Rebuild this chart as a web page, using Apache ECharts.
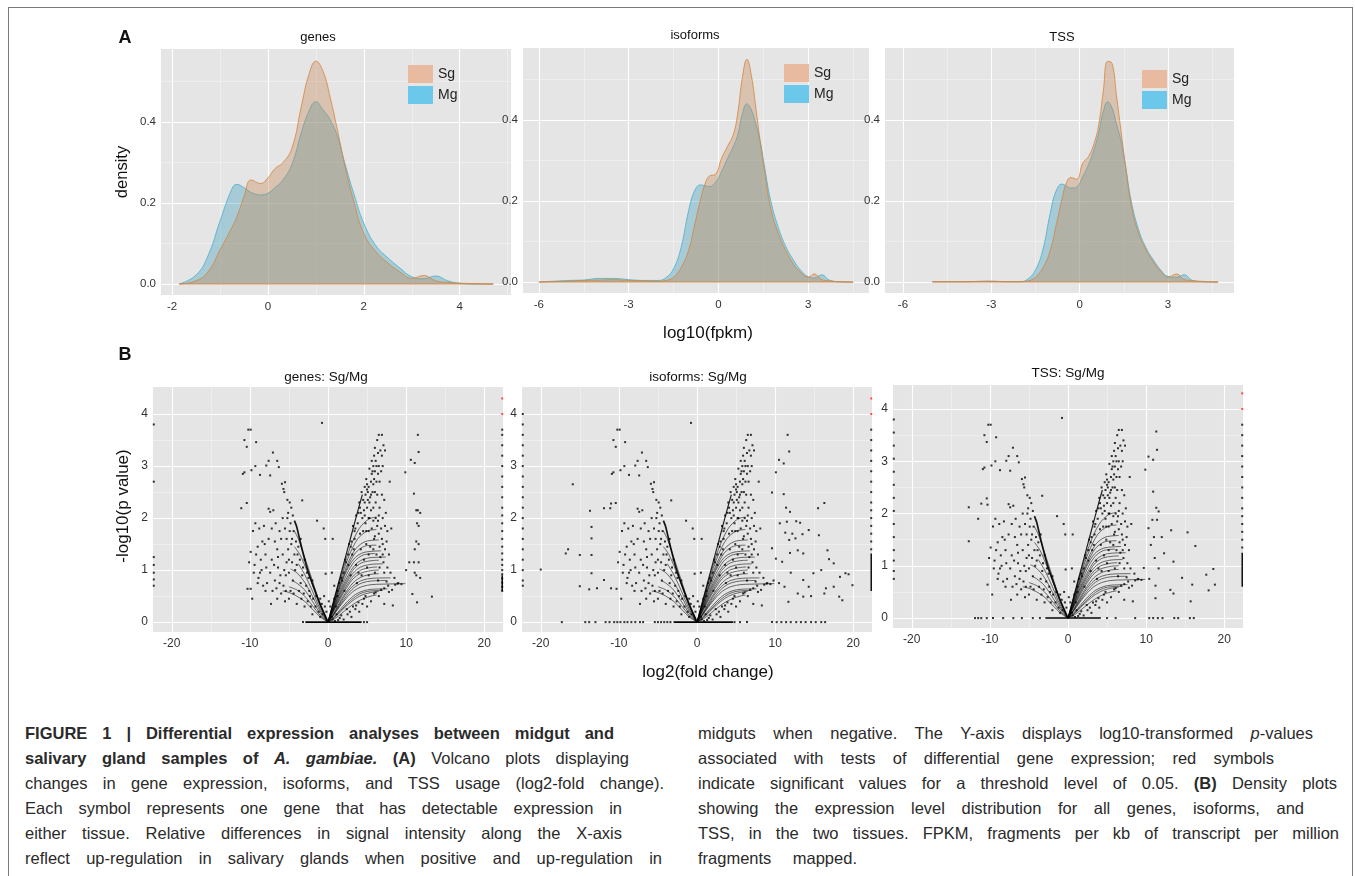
<!DOCTYPE html>
<html>
<head>
<meta charset="utf-8">
<script src="https://cdn.jsdelivr.net/npm/echarts/dist/echarts.min.js"></script>
<style>
html,body{margin:0;padding:0;background:#fff;width:1355px;height:876px;overflow:hidden;}
#frame{position:absolute;left:8px;top:7px;width:1345px;height:900px;border:1.5px solid #7a7a7a;box-sizing:border-box;}
#chart{position:absolute;left:0;top:0;width:1355px;height:700px;}
.cap{position:absolute;font-family:"Liberation Sans",Arial,Helvetica,sans-serif;font-size:16.5px;line-height:25px;height:25px;color:#2a2a2a;text-align:justify;text-align-last:justify;}
</style>
</head>
<body>
<div id="frame"></div>
<div id="chart"></div>

<div class="cap" style="left:25px;top:721px;width:589px"><b>FIGURE 1 | Differential expression analyses between midgut and</b></div>
<div class="cap" style="left:25px;top:746px;width:604px"><b>salivary gland samples of <i>A. gambiae.</i> (A)</b> Volcano plots displaying</div>
<div class="cap" style="left:25px;top:771px;width:639px">changes in gene expression, isoforms, and TSS usage (log2-fold change).</div>
<div class="cap" style="left:25px;top:796px;width:597px">Each symbol represents one gene that has detectable expression in</div>
<div class="cap" style="left:25px;top:821px;width:597px">either tissue. Relative differences in signal intensity along the X-axis</div>
<div class="cap" style="left:25px;top:846px;width:637px">reflect up-regulation in salivary glands when positive and up-regulation in</div>
<div class="cap" style="left:698px;top:721px;width:615px">midguts when negative. The Y-axis displays log10-transformed <i>p</i>-values</div>
<div class="cap" style="left:698px;top:746px;width:576px">associated with tests of differential gene expression; red symbols</div>
<div class="cap" style="left:698px;top:771px;width:639px">indicate significant values for a threshold level of 0.05. <b>(B)</b> Density plots</div>
<div class="cap" style="left:698px;top:796px;width:606px">showing the expression level distribution for all genes, isoforms, and</div>
<div class="cap" style="left:698px;top:821px;width:641px">TSS, in the two tissues. FPKM, fragments per kb of transcript per million</div>
<div class="cap" style="left:698px;top:846px;width:159px">fragments mapped.</div>

<script>
// ---------------- DATA ----------------
const groupNames = ['Sg', 'Mg'];
const titlesA = ['genes', 'isoforms', 'TSS'];
const titlesB = ['genes: Sg/Mg', 'isoforms: Sg/Mg', 'TSS: Sg/Mg'];

// density (panel A)
const densGenesX  = [-1.85,-1.5,-1.25,-1,-0.75,-0.65,-0.5,-0.35,-0.15,0,0.15,0.3,0.5,0.7,0.85,1,1.15,1.3,1.45,1.6,1.8,2,2.25,2.5,2.75,3,3.25,3.5,3.75,4,4.35,4.7];
const densGenesSg = [0,0.008,0.03,0.084,0.14,0.165,0.215,0.257,0.248,0.262,0.285,0.298,0.335,0.44,0.515,0.55,0.525,0.46,0.38,0.295,0.2,0.125,0.08,0.052,0.03,0.014,0.021,0.008,0.004,0.002,0.001,0];
const densGenesMg = [0,0.022,0.07,0.155,0.235,0.246,0.238,0.226,0.22,0.224,0.238,0.255,0.295,0.375,0.425,0.45,0.43,0.405,0.365,0.3,0.22,0.15,0.095,0.065,0.04,0.018,0.013,0.02,0.008,0.002,0,0];

const densIsoX  = [-6,-5,-4.5,-4,-3.5,-3,-2.5,-2,-1.75,-1.5,-1.25,-1,-0.8,-0.6,-0.45,-0.3,-0.1,0.1,0.3,0.5,0.65,0.8,0.95,1.1,1.25,1.4,1.55,1.75,2,2.25,2.5,2.75,3,3.2,3.45,3.7,4,4.5];
const densIsoSg = [0,0.002,0.004,0.005,0.006,0.004,0.003,0.002,0.004,0.012,0.035,0.078,0.14,0.203,0.242,0.262,0.266,0.305,0.335,0.365,0.42,0.505,0.55,0.51,0.43,0.345,0.27,0.18,0.12,0.078,0.045,0.024,0.012,0.02,0.006,0.003,0.001,0];
const densIsoMg = [0,0.004,0.005,0.009,0.009,0.006,0.004,0.004,0.011,0.033,0.085,0.175,0.225,0.24,0.238,0.236,0.246,0.272,0.305,0.335,0.365,0.415,0.44,0.425,0.39,0.345,0.28,0.2,0.135,0.088,0.055,0.029,0.013,0.01,0.018,0.005,0.001,0];

const densTssX  = [-5,-4,-3,-2.5,-2,-1.75,-1.5,-1.25,-1,-0.8,-0.6,-0.45,-0.3,-0.1,0.1,0.3,0.5,0.65,0.8,0.95,1.1,1.25,1.4,1.55,1.75,2,2.25,2.5,2.75,3,3.3,3.55,3.8,4.1,4.7];
const densTssSg = [0.001,0.001,0.002,0.001,0.001,0.003,0.012,0.035,0.078,0.14,0.205,0.245,0.258,0.254,0.293,0.31,0.345,0.39,0.47,0.545,0.54,0.46,0.375,0.29,0.19,0.12,0.08,0.05,0.027,0.012,0.02,0.006,0.004,0.002,0];
const densTssMg = [0.001,0.001,0.002,0.001,0.001,0.008,0.03,0.08,0.17,0.225,0.242,0.237,0.232,0.235,0.26,0.29,0.33,0.37,0.42,0.445,0.43,0.39,0.35,0.29,0.2,0.13,0.085,0.055,0.03,0.014,0.012,0.018,0.005,0.001,0];

const densXTicksGenes = [-2, 0, 2, 4];
const densXMinorGenes = [-1, 1, 3, 5];
const densXTicksWide  = [-6, -3, 0, 3];
const densXMinorWide  = [-4.5, -1.5, 1.5, 4.5];
const densYTicks = [0, 0.2, 0.4];
const densYMinor = [0.1, 0.3, 0.5];

// volcano (panel B)
const volXTicks = [-20, -10, 0, 10, 20];
const volXMinor = [-15, -5, 5, 15];
const volYTicks = [0, 1, 2, 3, 4];
const volYMinor = [0.5, 1.5, 2.5, 3.5];

const volRightFingers = [
  [[0,0],[0.8,0.06],[1.6,0.15],[2.5,0.26],[3.5,0.37],[4.5,0.45],[5.5,0.5],[6.2,0.52]],
  [[0,0],[0.8,0.08],[1.6,0.2],[2.5,0.33],[3.5,0.45],[4.5,0.53],[5.5,0.57],[6.5,0.59]],
  [[0,0],[0.8,0.095],[1.6,0.22],[2.5,0.36],[3.5,0.49],[4.5,0.57],[5.5,0.6],[7,0.61]],
  [[0,0],[0.8,0.11],[1.6,0.25],[2.5,0.4],[3.5,0.53],[4.5,0.6],[5.5,0.63],[7.6,0.64]],
  [[0,0],[0.7,0.13],[1.5,0.3],[2.4,0.47],[3.3,0.6],[4.3,0.68],[5.5,0.72],[7,0.73],[9.9,0.74]],
  [[0,0],[0.7,0.14],[1.5,0.32],[2.4,0.51],[3.3,0.66],[4.3,0.75],[5.5,0.79],[7.5,0.8]],
  [[0,0],[0.7,0.15],[1.5,0.35],[2.4,0.56],[3.3,0.71],[4.3,0.8],[5.5,0.84],[8,0.85]],
  [[0,0],[0.7,0.16],[1.5,0.38],[2.4,0.6],[3.3,0.77],[4.3,0.87],[5.5,0.92],[6.5,0.93]],
  [[0,0],[0.6,0.17],[1.4,0.4],[2.3,0.64],[3.2,0.83],[4.2,0.94],[5.5,0.99],[6.5,1.0]],
  [[0,0],[0.6,0.19],[1.4,0.43],[2.3,0.68],[3.2,0.88],[4.2,1.0],[5.5,1.05],[6.3,1.06]],
  [[0,0],[0.6,0.2],[1.4,0.46],[2.3,0.73],[3.2,0.94],[4.2,1.06],[5.5,1.11],[7,1.12]],
  [[0,0],[0.6,0.21],[1.4,0.5],[2.4,0.8],[3.3,1.02],[4.3,1.14],[5.5,1.18],[6.5,1.19]],
  [[0,0],[0.6,0.22],[1.4,0.53],[2.4,0.85],[3.4,1.09],[4.4,1.2],[5.5,1.24],[7.4,1.25]],
  [[0,0],[0.6,0.24],[1.4,0.57],[2.4,0.92],[3.4,1.17],[4.5,1.29],[6,1.32]],
  [[0,0],[0.6,0.26],[1.4,0.62],[2.4,0.99],[3.4,1.23],[4.6,1.34],[6.8,1.37]],
  [[0,0],[0.6,0.27],[1.5,0.68],[2.5,1.06],[3.5,1.33],[4.7,1.46],[6.2,1.48]],
  [[0,0],[0.6,0.29],[1.5,0.72],[2.6,1.15],[3.6,1.42],[4.8,1.55],[6.5,1.58]],
  [[0,0],[0.6,0.31],[1.5,0.77],[2.7,1.28],[3.8,1.6],[5,1.75],[6.2,1.78]],
  [[0,0],[0.6,0.33],[1.6,0.86],[2.8,1.42],[4,1.8],[5.2,1.98],[6.2,2.02]]
];
const volRightEdge = [[0,0],[1,0.56],[2,1.12],[3,1.68],[4,2.24],[4.4,2.45]];
const volLeftFingers = [
  [[0,0],[-1,0.1],[-2,0.25],[-3,0.4],[-4,0.5],[-5,0.57],[-5.8,0.6]],
  [[0,0],[-1,0.13],[-2,0.32],[-3,0.5],[-4,0.62],[-5,0.68]],
  [[0,0],[-1,0.17],[-2,0.4],[-3,0.62],[-4,0.75],[-4.6,0.8]],
  [[0,0],[-1,0.21],[-2,0.5],[-3,0.77],[-4,0.95],[-4.8,1.02]],
  [[0,0],[-1,0.25],[-2,0.6],[-3,0.92],[-3.8,1.12]],
  [[0,0],[-1,0.3],[-2,0.72],[-3,1.1],[-3.6,1.3],[-4.3,1.45]],
  [[0,0],[-1,0.34],[-2,0.8],[-3,1.25],[-3.8,1.6],[-4.3,1.75]]
];
const volLeftEdge = [[0,0],[-1.1,0.38],[-2.6,1.0],[-3.4,1.45],[-4.0,1.83],[-4.3,1.95]];

const volCorePoints = [
  [1.2,0.5],[1.8,0.8],[2.1,0.6],[2.6,1.1],[2.9,0.9],[3.1,1.3],[3.4,1.6],[3.6,1.1],[3.8,1.9],[3.9,0.95],[4.1,1.7],[4.2,1.4],[4.4,2.0],[4.5,1.75],[4.6,1.2],[4.7,2.3],[4.8,1.9],[4.9,1.5],[5.0,2.2],[5.1,2.5],[5.2,1.75],[5.3,2.0],[5.4,2.4],[5.5,2.7],[5.6,1.8],[5.7,2.9],[5.8,2.2],[5.9,1.6],[6.0,2.5],[6.1,2.0],[6.2,3.0],[6.3,1.85],[6.5,1.7],[6.6,2.2],[6.8,1.8],[7.0,1.5],[7.2,2.35],[6.4,2.85],[5.9,3.2],[6.9,3.2],[7.1,3.4],[6.5,3.6],[6.9,3.6],[7.9,2.7],[7.6,1.75],[8.1,1.8],[7.3,1.4],[7.8,1.3],[6.2,1.3],[6.6,1.45],[7.1,1.15],[5.2,0.9],[6.0,0.95],[7.2,0.95],[8.5,0.85],[8.9,0.74],[9.4,0.73],[6.5,0.5],[7.2,0.35],[8.3,0.32],[5.5,0.4],[4.4,0.35],[3.5,0.25],[2.5,0.15],[1.5,0.08],[3.0,0.1],[4.0,0.2],[2.0,0.05],[5.0,0.3],[1.0,0.3],[0.5,0.1],[0.8,0.45],[1.4,0.75],[2.2,1.2],[2.7,1.5],[3.2,1.85],[3.6,2.05],[4.0,2.3],[4.3,2.5],[4.9,2.75],[5.3,2.95],[5.6,3.1],[6.0,3.35],[5.0,2.55],[4.6,2.15],[5.8,2.65],[6.3,2.45],[5.4,1.45],[6.0,1.65],[6.7,1.25],[4.3,0.9],[3.7,0.75],[5.0,1.05],[6.4,0.8],[7.5,0.78],[8.2,0.62],[7.8,0.58],[3.3,1.4],[2.0,0.95],[4.7,2.6],[6.0,2.9],[6.6,2.7],[7.4,2.1],[7.0,2.0],
  [4.2,2.1],[4.5,2.35],[4.8,2.45],[5.0,2.65],[5.2,2.6],[5.3,2.3],[5.5,2.45],[5.6,2.85],[5.8,3.0],[5.9,2.75],[6.1,3.1],[6.2,2.7],[6.4,3.25],[6.5,3.0],[6.7,3.3],[6.8,2.9],[7.0,3.0],[7.3,3.3],[6.3,3.5],[5.7,2.5],[5.1,2.35],[4.7,2.05],[5.5,2.15],[6.1,2.3],[6.5,2.05],[6.9,2.45],[5.2,2.0],[4.9,1.75],[5.8,1.95],[6.4,1.95],[7.3,1.85],[6.9,1.6],[7.5,1.55],[7.0,1.3],[5.8,1.4],[5.2,1.3],[6.6,1.05],[7.6,1.05],[8.0,0.95],[7.2,0.65],[6.8,0.62],[7.7,0.7],[8.6,0.72],[9.0,0.75],[4.6,0.45],[5.9,0.55],[3.9,0.38],[3.2,0.3],[2.4,0.25],[1.7,0.13],[1.1,0.15],[0.6,0.05],[0.9,0.02],[1.3,0.04],[2.8,0.2],[3.6,0.32],[4.8,0.5],[6.1,0.57],[2.6,1.3],[3.0,1.55],[3.5,1.8],[3.9,2.1],[4.1,2.2],[3.4,1.75],[2.9,1.45],[2.3,1.15],[1.7,0.85],[1.2,0.6],
  [-1.5,0.5],[-2,0.8],[-2.3,0.5],[-2.8,0.7],[-3.0,1.2],[-3.3,0.9],[-3.5,1.6],[-3.7,0.6],[-3.9,1.3],[-4.2,1.0],[-4.5,0.8],[-4.4,1.75],[-4.7,1.5],[-5.0,1.2],[-5.2,2.0],[-5.4,0.9],[-5.6,2.5],[-5.9,2.66],[-5.7,2.56],[-5.5,2.69],[-4.9,2.3],[-5.1,2.1],[-6.0,1.6],[-6.2,0.75],[-6.5,1.4],[-6.8,0.8],[-7.0,2.15],[-7.4,2.12],[-7.6,2.18],[-7.2,1.2],[-7.8,0.75],[-8.1,1.5],[-8.5,1.0],[-8.2,1.85],[-8.8,1.8],[-9.0,0.75],[-9.3,1.9],[-9.6,1.75],[-9.9,1.35],[-10.1,1.15],[-9.5,0.95],[-8.9,0.85],[-10.3,0.64],[-9.7,0.45],[-7.3,0.35],[-6.0,0.55],[-4.0,0.35],[-3.0,0.3],[-2.0,0.15],[-1.0,0.1],[-5.0,0.45],[-3.3,2.34],[-8.0,1.3],[-6.7,1.9],[-7.6,1.6],[-6.4,1.05],[-4.8,1.9],[-4.1,1.55],[-3.6,1.2],[-2.5,0.85],[-5.3,1.6],[-5.8,1.3],[-4.6,1.15],[-3.1,0.55],[-2.2,0.3],[-6.6,0.65],[-5.4,0.6],[-8.6,1.2],[-9.2,1.3],[-7.1,0.6],[-8.3,0.7],
  [-1.2,0.2],[-1.6,0.3],[-1.9,0.45],[-2.4,0.6],[-2.7,0.95],[-3.2,1.05],[-3.5,0.75],[-3.8,1.45],[-4.0,1.1],[-4.3,1.3],[-4.6,1.6],[-4.9,1.75],[-5.1,1.4],[-5.3,1.15],[-5.6,1.0],[-5.0,0.95],[-4.4,0.55],[-5.7,0.7],[-6.1,0.9],[-6.4,1.25],[-6.9,1.1],[-7.4,0.95],[-7.9,1.05],[-6.2,1.75],[-6.8,1.55],[-5.8,2.0],[-5.5,1.8],[-4.7,2.2],[-5.2,2.35],[-4.5,2.05],[-7.2,1.8],[-8.4,1.55],[-9.0,1.45],[-9.4,1.1],[-8.7,0.95],[-2.6,0.4],[-3.4,0.45],[-4.8,0.6],[-6.5,0.45],[-5.5,0.4],[-8.0,0.6],[-0.7,0.15],[-0.4,0.3],[-1.0,0.45],
  [-10.2,3.7],[-9.9,3.7],[-10.7,3.5],[-9.2,3.46],[-10.4,3.37],[-10.9,2.85],[-10.7,2.88],[-9.8,2.92],[-9.3,3.0],[-8.7,2.83],[-7.9,3.01],[-7.6,3.1],[-7.05,3.26],[-6.5,3.1],[-6.3,2.98],[-7.4,2.82],[-11.1,2.19],[-10.4,2.29],
  [-0.77,3.83],[-1.4,1.95],[-0.55,1.8],[-0.35,1.6],[-0.3,0.93],[0.5,0.95],[0.8,0.7],[-0.5,0.5],[0.3,0.3],[-0.2,0.2],[0.1,0.4],[-0.8,0.35],[0.6,1.6]
];

const genesFarPoints = [[10.6,3.12],[11.1,3.06],[9.9,2.88],[11.5,3.6],[11.6,3.27],[11.0,2.47],[11.5,2.15],[11.8,2.1],[11.3,2.15],[11.4,1.9],[11.6,1.85],[11.3,1.55],[11.6,1.5],[11.1,1.4],[10.4,1.15],[11.0,1.15],[11.6,1.15],[11.1,0.95],[11.3,0.9],[11.8,0.85],[10.8,0.54],[11.4,0.38],[13.3,0.49],[10.0,1.0],[-9.9,0.64]];
const isoFarPoints = [[-20.0,1.01],[-16.8,1.32],[-16.5,1.4],[-15.9,2.65],[-15.0,1.29],[-15.0,0.69],[-13.8,0.63],[-13.7,2.14],[-13.5,1.83],[-13.5,1.61],[-13.5,1.29],[-13.5,0.94],[-12.8,0.65],[-11.9,0.81],[-11.9,2.19],[-11.0,2.28],[-11.0,0.65],[9.6,2.49],[10.1,2.88],[10.5,3.12],[11.1,3.05],[11.6,3.6],[11.8,3.28],[11.1,2.46],[11.4,2.2],[11.9,2.12],[11.5,1.93],[12.7,1.94],[13.2,1.91],[12.2,1.7],[11.8,1.58],[12.6,1.61],[13.5,1.69],[14.3,1.77],[15.6,1.67],[16.3,2.29],[15.5,2.19],[16.7,1.38],[16.9,1.21],[9.6,1.42],[10.1,1.22],[10.9,1.16],[11.9,1.33],[12.9,1.38],[13.6,1.32],[14.9,0.94],[15.9,1.0],[13.6,0.81],[14.3,0.68],[12.9,0.55],[13.6,0.49],[14.6,0.5],[16.3,0.55],[16.5,0.65],[17.5,0.68],[18.2,0.49],[18.6,0.42],[18.3,0.87],[19.0,0.94],[19.4,0.92],[19.9,0.71],[11.7,0.39],[17.5,1.13],[10.5,0.75],[11.2,0.68],[9.8,0.8],[12.0,0.95],[10.6,1.9],[11.3,1.72]];
const tssFarPoints = [[-12.7,2.12],[-12.7,1.47],[-10.3,2.17],[9.7,0.96],[9.9,2.84],[10.3,3.09],[10.9,3.03],[11.3,3.57],[11.4,3.22],[10.9,2.42],[11.3,2.11],[11.6,2.04],[11.4,1.88],[10.8,1.88],[10.3,1.72],[13.2,1.68],[15.3,1.64],[16.3,1.38],[12.3,1.24],[13.5,1.08],[14.6,0.77],[15.9,0.64],[15.7,0.32],[17.7,0.83],[18.6,0.94],[18.8,0.64],[18.0,0.53],[13.1,0.54],[13.5,0.47],[11.2,0.38],[10.6,1.4],[11.1,1.15],[11.6,0.95],[10.4,0.75],[11.2,0.62],[12.0,1.55],[11.0,1.55],[-11.5,1.9]];

const genesZeroLine = [[-2.9,0],[4.3,0]];
const isoZeroLine   = [[-3.0,0],[4.6,0]];
const tssZeroLine   = [[-2.9,0],[4.2,0]];
const genesZeroPoints = [[4.6,0],[5.0,0],[-3.2,0]];
const isoZeroPoints = [[-17.3,0],[-14.3,0],[-13.8,0],[-13.0,0],[-11.7,0],[-11.2,0],[-10.6,0],[-10.2,0],[-9.8,0],[-9.3,0],[-8.9,0],[-8.4,0],[-7.9,0],[-7.3,0],[-6.9,0],[-5.4,0],[-5.0,0],[-4.6,0],[-4.2,0],[-3.8,0],[-3.4,0],[4.8,0],[5.5,0],[6.4,0],[9.6,0],[10.2,0],[10.8,0],[11.4,0],[12.0,0],[12.7,0],[13.3,0],[13.9,0],[14.6,0],[15.2,0],[15.9,0],[16.4,0]];
const tssZeroPoints = [[-11.9,0],[-11.5,0],[-11.1,0],[-10.4,0],[-9.6,0],[-8.3,0],[-7.0,0],[-5.9,0],[-4.5,0],[-3.6,0],[5.0,0],[6.1,0],[8.6,0],[10.4,0],[10.9,0],[11.5,0],[12.1,0],[13.6,0],[14.1,0],[15.6,0],[16.1,0]];

const genesEdgePoints = [[-22.3,3.8],[-22.3,2.7],[-22.3,1.25],[-22.3,1.1],[-22.3,0.95],[-22.3,0.82],[-22.3,0.7],[22.3,0.6],[22.3,0.68],[22.3,0.76],[22.3,0.84],[22.3,0.92],[22.3,1.0],[22.3,1.1],[22.3,1.2],[22.3,1.32],[22.3,1.45],[22.3,1.6],[22.3,1.75],[22.3,1.9],[22.3,2.05],[22.3,2.2],[22.3,2.4],[22.3,2.6],[22.3,2.8],[22.3,3.0],[22.3,3.2],[22.3,3.4],[22.3,3.6],[22.3,3.7]];
const isoEdgePoints = [[-22.3,4.0],[-22.3,3.8],[-22.3,3.6],[-22.3,3.4],[-22.3,3.2],[-22.3,3.0],[-22.3,2.8],[-22.3,2.6],[-22.3,2.4],[-22.3,2.2],[-22.3,2.0],[-22.3,1.8],[-22.3,1.6],[-22.3,1.4],[-22.3,1.2],[-22.3,1.0],[-22.3,0.8],[-22.3,0.7],[22.3,1.4],[22.3,1.55],[22.3,1.7],[22.3,1.85],[22.3,2.0],[22.3,2.15],[22.3,2.3],[22.3,2.5],[22.3,2.7],[22.3,2.9],[22.3,3.1],[22.3,3.3],[22.3,3.5],[22.3,3.7]];
const tssEdgePoints = [[-22.3,3.8],[-22.3,3.55],[-22.3,3.3],[-22.3,3.05],[-22.3,2.8],[-22.3,2.55],[-22.3,2.3],[-22.3,2.05],[-22.3,1.8],[-22.3,1.55],[-22.3,1.3],[-22.3,1.1],[-22.3,0.9],[-22.3,0.75],[22.3,1.35],[22.3,1.5],[22.3,1.65],[22.3,1.8],[22.3,1.95],[22.3,2.1],[22.3,2.3],[22.3,2.5],[22.3,2.7],[22.3,2.9],[22.3,3.1],[22.3,3.3],[22.3,3.5],[22.3,3.7]];
const isoEdgeDense = [[22.3,0.6],[22.3,1.32]];
const tssEdgeDense = [[22.3,0.6],[22.3,1.25]];
const genesEdgeDense = [[22.3,0.6],[22.3,0.9]];
const sigPoints = [[22.3,4.3],[22.3,4.0]];

// ---------------- LAYOUT ----------------
const FF = '"Liberation Sans", Arial, Helvetica, sans-serif';
const layoutA = [
  {left:161, top:49, width:350, height:246, xMin:-2.23, xMax:5.07, yMin:-0.027, yMax:0.58},
  {left:523, top:48, width:346, height:245, xMin:-6.53, xMax:5.03, yMin:-0.027, yMax:0.578},
  {left:885, top:48, width:349, height:245, xMin:-6.61, xMax:5.24, yMin:-0.027, yMax:0.578}
];
const layoutB = [
  {left:153, top:387, width:350, height:245, xMin:-22.4, xMax:22.4, yMin:-0.19, yMax:4.52},
  {left:522, top:387, width:350, height:245, xMin:-22.4, xMax:22.4, yMin:-0.19, yMax:4.52},
  {left:893, top:385, width:350, height:243, xMin:-22.4, xMax:22.4, yMin:-0.19, yMax:4.46}
];

const grid = [], xAxis = [], yAxis = [], series = [];

function addPanel(r, xMaj, xMin, yMaj, yMin, yFmt, fs) {
  const g = grid.length;
  grid.push({left:r.left, top:r.top, width:r.width, height:r.height, show:true, backgroundColor:'#e5e5e5', borderWidth:0});
  xAxis.push({gridIndex:g, type:'value', position:'bottom', min:r.xMin, max:r.xMax,
    axisLine:{show:false}, axisTick:{show:false, customValues:xMaj},
    axisLabel:{customValues:xMaj, color:'#333', fontSize:fs, margin:6, fontFamily:FF},
    splitLine:{show:true, lineStyle:{color:'#ffffff', width:1.1}}});
  xAxis.push({gridIndex:g, type:'value', position:'top', min:r.xMin, max:r.xMax,
    axisLine:{show:false}, axisTick:{show:false, customValues:xMin},
    axisLabel:{show:false, customValues:xMin},
    splitLine:{show:true, lineStyle:{color:'#f3f3f3', width:0.6}}});
  yAxis.push({gridIndex:g, type:'value', position:'left', min:r.yMin, max:r.yMax,
    axisLine:{show:false}, axisTick:{show:false, customValues:yMaj},
    axisLabel:{customValues:yMaj, color:'#333', fontSize:fs, margin:5, fontFamily:FF, formatter:yFmt},
    splitLine:{show:true, lineStyle:{color:'#ffffff', width:1.1}}});
  yAxis.push({gridIndex:g, type:'value', position:'right', min:r.yMin, max:r.yMax,
    axisLine:{show:false}, axisTick:{show:false, customValues:yMin},
    axisLabel:{show:false, customValues:yMin},
    splitLine:{show:true, lineStyle:{color:'#f3f3f3', width:0.6}}});
  return 2 * g;
}

function zip(xs, ys) { return xs.map((x, i) => [x, ys[i]]); }

function addDensity(ai, xs, sg, mg) {
  series.push({type:'line', name:groupNames[1], xAxisIndex:ai, yAxisIndex:ai, data:zip(xs, mg),
    smooth:0.45, symbol:'none', silent:true, z:2,
    itemStyle:{color:'#6CC8EA'}, lineStyle:{color:'#48AECD', width:0.8},
    areaStyle:{color:'rgba(51,155,187,0.5)'}});
  series.push({type:'line', name:groupNames[0], xAxisIndex:ai, yAxisIndex:ai, data:zip(xs, sg),
    smooth:0.45, symbol:'none', silent:true, z:3,
    itemStyle:{color:'#E8BBA0'}, lineStyle:{color:'#D3843E', width:0.8},
    areaStyle:{color:'rgba(197,131,79,0.5)'}});
  series.push({type:'line', name:'baseline', xAxisIndex:ai, yAxisIndex:ai,
    data:[[xs[0], 0], [xs[xs.length - 1], 0]], symbol:'none', silent:true, z:4,
    lineStyle:{color:'#D3843E', width:0.9}});
}

function addVolcano(ai, far, zeroLine, zeroPts, edgePts, edgeDense) {
  const lineBase = {type:'line', xAxisIndex:ai, yAxisIndex:ai, symbol:'none', silent:true, z:3};
  volRightFingers.concat(volLeftFingers).forEach(f => {
    series.push(Object.assign({}, lineBase, {name:'finger', data:f, smooth:0.3,
      lineStyle:{color:'#000', width:0.8, opacity:0.7}}));
  });
  series.push(Object.assign({}, lineBase, {name:'edge', data:volRightEdge, smooth:0.2,
    lineStyle:{color:'#000', width:1.2, opacity:0.85}}));
  series.push(Object.assign({}, lineBase, {name:'edge', data:volLeftEdge, smooth:0.2,
    lineStyle:{color:'#000', width:1.7, opacity:0.9}}));
  series.push(Object.assign({}, lineBase, {name:'zero', data:zeroLine, lineStyle:{color:'#000', width:1.6}}));
  series.push(Object.assign({}, lineBase, {name:'edgeDense', data:edgeDense, lineStyle:{color:'#000', width:1.4}}));
  const pts = volCorePoints.concat(far, zeroPts, edgePts);
  series.push({type:'scatter', name:'genes', xAxisIndex:ai, yAxisIndex:ai, data:pts,
    symbol:'rect', symbolSize:2, itemStyle:{color:'#000'}, silent:true, z:4});
  series.push({type:'scatter', name:'significant', xAxisIndex:ai, yAxisIndex:ai, data:sigPoints,
    symbol:'rect', symbolSize:2, itemStyle:{color:'#ff2020'}, silent:true, z:5});
}

const fmt1 = v => v.toFixed(1);
const fmt0 = v => String(Math.round(v));

let ai;
ai = addPanel(layoutA[0], densXTicksGenes, densXMinorGenes, densYTicks, densYMinor, fmt1, 11.5);
addDensity(ai, densGenesX, densGenesSg, densGenesMg);
ai = addPanel(layoutA[1], densXTicksWide, densXMinorWide, densYTicks, densYMinor, fmt1, 11.5);
addDensity(ai, densIsoX, densIsoSg, densIsoMg);
ai = addPanel(layoutA[2], densXTicksWide, densXMinorWide, densYTicks, densYMinor, fmt1, 11.5);
addDensity(ai, densTssX, densTssSg, densTssMg);

ai = addPanel(layoutB[0], volXTicks, volXMinor, volYTicks, volYMinor, fmt0, 12);
addVolcano(ai, genesFarPoints, genesZeroLine, genesZeroPoints, genesEdgePoints, genesEdgeDense);
ai = addPanel(layoutB[1], volXTicks, volXMinor, volYTicks, volYMinor, fmt0, 12);
addVolcano(ai, isoFarPoints, isoZeroLine, isoZeroPoints, isoEdgePoints, isoEdgeDense);
ai = addPanel(layoutB[2], volXTicks, volXMinor, volYTicks, volYMinor, fmt0, 12);
addVolcano(ai, tssFarPoints, tssZeroLine, tssZeroPoints, tssEdgePoints, tssEdgeDense);

const legendPos = [{left:408, top:65}, {left:784, top:64}, {left:1142, top:70}];
const legend = legendPos.map(p => ({
  left:p.left, top:p.top, orient:'vertical', icon:'rect', itemWidth:25, itemHeight:18, itemGap:3,
  padding:0, selectedMode:false, textStyle:{fontSize:14, color:'#222', fontFamily:FF},
  itemStyle:{borderWidth:0}, lineStyle:{width:0},
  data:[{name:groupNames[0], itemStyle:{color:'#E8BBA0'}}, {name:groupNames[1], itemStyle:{color:'#6CC8EA'}}]
}));

function txt(s, x, y, size, opts) {
  return Object.assign({type:'text', x:x, y:y, silent:true,
    style:{text:s, fill:'#111', font:(opts && opts.weight ? opts.weight + ' ' : '') + size + 'px ' + FF,
      textAlign:'center', textVerticalAlign:'middle'}}, opts && opts.rot ? {rotation:opts.rot} : {});
}
const titleA = [[318, 37], [695, 35], [1062, 37]];
const titleB = [[326, 377], [698, 377], [1068, 373]];
const graphic = [
  txt('A', 125, 38, 18, {weight:'bold'}),
  txt('B', 125, 355, 18, {weight:'bold'}),
  txt('density', 122, 172, 16.5, {rot:Math.PI / 2}),
  txt('-log10(p value)', 123, 506, 17, {rot:Math.PI / 2}),
  txt('log10(fpkm)', 708, 333, 17),
  txt('log2(fold change)', 708, 672, 17)
].concat(titlesA.map((t, i) => txt(t, titleA[i][0], titleA[i][1], 13)),
         titlesB.map((t, i) => txt(t, titleB[i][0], titleB[i][1], 13.5)));

const chart = echarts.init(document.getElementById('chart'), null, {renderer:'canvas'});
chart.setOption({
  animation:false,
  backgroundColor:'transparent',
  textStyle:{fontFamily:FF},
  grid:grid, xAxis:xAxis, yAxis:yAxis, legend:legend, graphic:graphic, series:series
});
</script>
</body>
</html>
